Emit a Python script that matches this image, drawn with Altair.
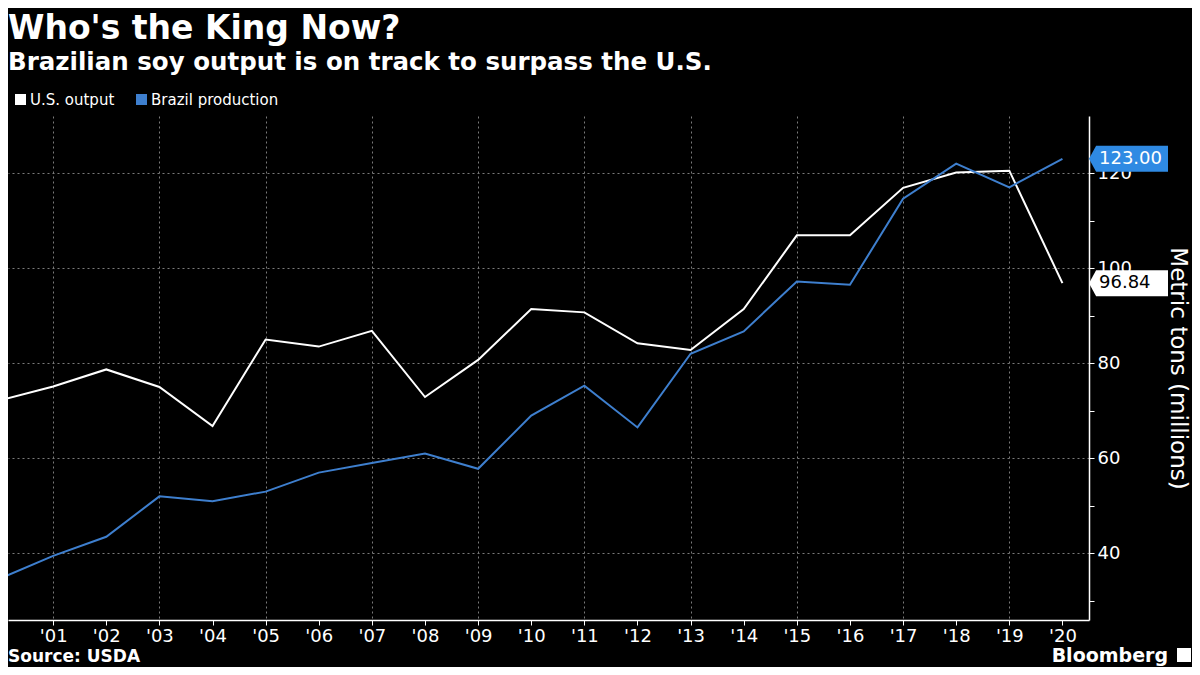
import altair as alt
import pandas as pd

# ---- data ----
years = list(range(2000, 2021))
us_output = [72.2, 75.1, 78.7, 75.0, 66.8, 85.0, 83.5, 86.8, 72.9, 80.7, 91.4,
             90.7, 84.2, 82.8, 91.4, 106.9, 106.9, 116.9, 120.1, 120.5, 96.84]
brazil_production = [34.7, 39.5, 43.5, 52.0, 51.0, 53.0, 57.0, 59.0, 61.0, 57.8, 69.0,
                     75.3, 66.5, 82.0, 86.7, 97.2, 96.5, 114.6, 122.0, 117.0, 123.0]
series_names = ["U.S. output", "Brazil production"]
series_colors = ["#ffffff", "#3e7fce"]
label_fill = ["#ffffff", "#2f8ae3"]
label_text_color = ["#000000", "#ffffff"]
y_ticks = [30, 40, 50, 60, 70, 80, 90, 100, 110, 120]
x_ticks = years[1:]
title_text = "Who's the King Now?"
subtitle_text = "Brazilian soy output is on track to surpass the U.S."
y_title = "Metric tons (millions)"
source_text = ["Source: USDA"]
brand_text = ["Bloomberg"]

rows = []
for i, yr in enumerate(years):
    rows.append({"year": yr, "series": series_names[0], "value": us_output[i]})
    rows.append({"year": yr, "series": series_names[1], "value": brazil_production[i]})
df = pd.DataFrame(rows)

lab_df = pd.DataFrame({
    "series": series_names,
    "value": [us_output[-1], brazil_production[-1]],
    "fill": label_fill,
    "tcolor": label_text_color,
})

W = 1081
H = 504
FONT = "DejaVu Sans"
GRID = "#7a7a7a"

x_axis = alt.Axis(
    values=x_ticks, format="d",
    labelExpr="\"'\" + slice(datum.label, 2)",
    grid=True, gridColor=GRID, gridDash=[2, 3], gridWidth=1,
    gridOpacity={"condition": {"test": "datum.value % 2 == 1", "value": 1}, "value": 0},
    domainColor="white", domainWidth=1.5, tickColor="white", tickSize=5, tickWidth=1,
    labelColor="white", labelFont=FONT, labelFontSize=18, labelPadding=2,
    labelFlush=False, labelOverlap=False, title=None,
)
y_axis = alt.Axis(
    orient="right", values=y_ticks,
    labelExpr="datum.value % 20 == 0 ? datum.label : ''",
    grid=True, gridColor=GRID, gridDash=[2, 3], gridWidth=1,
    gridOpacity={"condition": {"test": "datum.value % 20 == 0", "value": 1}, "value": 0},
    domainColor="white", domainWidth=1.5, tickColor="white", tickSize=5, tickWidth=1,
    labelColor="white", labelFont=FONT, labelFontSize=18, labelPadding=3,
    labelOverlap=False, labelFlush=False,
    title=y_title, titleColor="white", titleFont=FONT, titleFontSize=23,
    titleFontWeight="normal", titlePadding=34,
)

lines = alt.Chart(df).mark_line(clip=True, strokeWidth=2).encode(
    x=alt.X("year:Q", scale=alt.Scale(domain=[2000.15, 2020.5], nice=False, zero=False), axis=x_axis),
    y=alt.Y("value:Q", scale=alt.Scale(domain=[26, 132], nice=False, zero=False), axis=y_axis),
    color=alt.Color(
        "series:N",
        scale=alt.Scale(domain=series_names, range=series_colors),
        legend=alt.Legend(
            title=None, orient="none", legendX=5, legendY=-24, direction="horizontal",
            symbolType="square", symbolSize=25, symbolStrokeWidth=6, symbolOpacity=1,
            labelColor="white", labelFont=FONT, labelFontSize=15, labelOffset=2,
            columnPadding=12, padding=0,
        ),
    ),
    detail="series:N",
)

flag = "M-1,0 L-0.82,-0.33 L1,-0.33 L1,0.33 L-0.82,0.33 Z"
boxes = alt.Chart(lab_df).mark_point(shape=flag, filled=True, size=79 * 79, opacity=1, strokeWidth=0).encode(
    x=alt.value(W + 39.5),
    y=alt.Y("value:Q"),
    fill=alt.Fill("fill:N", scale=None),
)
texts = alt.Chart(lab_df).mark_text(align="left", baseline="middle", font=FONT, fontSize=18).encode(
    x=alt.value(W + 10),
    y=alt.Y("value:Q"),
    text=alt.Text("value:Q", format=".2f"),
    color=alt.Color("tcolor:N", scale=None),
)

source = alt.Chart(pd.DataFrame({"t": source_text})).mark_text(
    align="left", baseline="alphabetic", font=FONT, fontWeight="bold", fontSize=17, color="white"
).encode(x=alt.value(0), y=alt.value(H + 42), text="t:N")

brand = alt.Chart(pd.DataFrame({"t": brand_text})).mark_text(
    align="right", baseline="alphabetic", font=FONT, fontWeight="bold", fontSize=19, color="white"
).encode(x=alt.value(1160), y=alt.value(H + 42), text="t:N")

logo = alt.Chart(pd.DataFrame({"t": brand_text})).mark_point(
    shape="square", filled=True, size=196, color="white", opacity=1
).encode(x=alt.value(1176), y=alt.value(H + 35))

chart = alt.layer(lines, boxes, texts, source, brand, logo).properties(
    width=W, height=H,
    title=alt.TitleParams(
        text=title_text, subtitle=subtitle_text, anchor="start", frame="group", dx=0,
        font=FONT, fontSize=33, fontWeight="bold", color="white",
        subtitleFont=FONT, subtitleFontSize=24.5, subtitleFontWeight="bold",
        subtitleColor="white", subtitlePadding=5, offset=18,
    ),
    autosize=alt.AutoSizeParams(type="none"),
    padding={"left": 0, "top": 108, "right": 103, "bottom": 47},
    background="black",
).configure_view(strokeWidth=0)

chart.save("out.html", embed_options={"renderer": "svg", "actions": False})
